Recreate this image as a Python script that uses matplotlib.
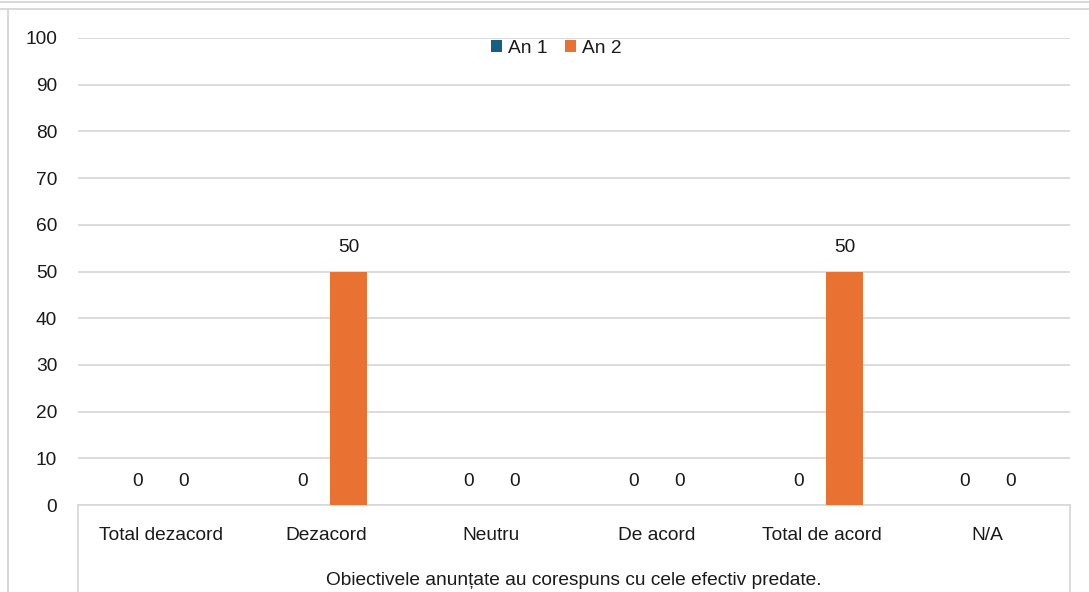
import matplotlib
matplotlib.use("Agg")
import matplotlib.pyplot as plt
from matplotlib.lines import Line2D
import numpy as np

categories = ["Total dezacord", "Dezacord", "Neutru", "De acord", "Total de acord", "N/A"]
an1 = [0, 0, 0, 0, 0, 0]
an2 = [0, 50, 0, 0, 50, 0]
series_names = ["An 1", "An 2"]
group_label = "Obiectivele anunțate au corespuns cu cele efectiv predate."
yticks = [0, 10, 20, 30, 40, 50, 60, 70, 80, 90, 100]

c1 = "#156082"
c2 = "#E97132"
grid_c = "#D9D9D9"
txt_c = "#1A1A1A"
fs = 13.8
plt.rcParams['font.family'] = ['Liberation Sans', 'DejaVu Sans']

W, H = 1089, 592
fig = plt.figure(figsize=(W / 100, H / 100), dpi=100)
x0, x1 = 78, 1070
y0, y1 = 505, 38
ax = fig.add_axes([x0 / W, 1 - y0 / H, (x1 - x0) / W, (y0 - y1) / H])

x = np.arange(len(categories))
bw = 0.224
off = 0.139
ax.bar(x - off, an1, bw, color=c1, label=series_names[0], zorder=3)
ax.bar(x + off, an2, bw, color=c2, label=series_names[1], zorder=3)

for xi, v in zip(x - off, an1):
    ax.annotate(f"{v}", (xi, v), xytext=(0, 24), textcoords="offset pixels",
                ha="center", va="center", fontsize=fs, color=txt_c)
for xi, v in zip(x + off, an2):
    ax.annotate(f"{v}", (xi, v), xytext=(0, 24), textcoords="offset pixels",
                ha="center", va="center", fontsize=fs, color=txt_c)

ax.set_xlim(-0.5, len(categories) - 0.5)
ax.set_ylim(0, 100)
ax.set_yticks(yticks)
ax.set_yticklabels([str(t) for t in yticks], fontsize=fs, color=txt_c)
ax.tick_params(axis="y", length=0, pad=15)
ax.set_xticks(x)
ax.set_xticklabels(categories, fontsize=fs, color=txt_c)
ax.tick_params(axis="x", length=0, pad=16)
ax.yaxis.grid(True, color=grid_c, linewidth=1.3, zorder=0)
for s in ["top", "right", "left"]:
    ax.spines[s].set_visible(False)
ax.spines["bottom"].set_color(grid_c)
ax.spines["bottom"].set_linewidth(1.3)

ax.text(0.5, -0.162, group_label, transform=ax.transAxes, ha="center", va="center",
        fontsize=fs, color=txt_c)

leg = ax.legend(loc="upper center", bbox_to_anchor=(0.482, 1.012), ncol=2, frameon=False,
                fontsize=fs, handlelength=0.6, handleheight=0.6, handletextpad=0.3,
                columnspacing=0.9, borderaxespad=0.0)
for t in leg.get_texts():
    t.set_color(txt_c)

def fx(px):
    return px / W
def fy(py):
    return 1 - py / H

# vertical category-axis box lines
for px in (x0, x1):
    fig.add_artist(Line2D([fx(px), fx(px)], [fy(y0), fy(592)], color=grid_c, lw=1.3))
# outer chart frame and top line
fig.add_artist(Line2D([0, 1], [fy(1.5), fy(1.5)], color=grid_c, lw=1.5))
fig.add_artist(Line2D([fx(0), 1], [fy(8.5), fy(8.5)], color=grid_c, lw=1.5))
fig.add_artist(Line2D([fx(7.5), fx(7.5)], [fy(8.5), 0], color=grid_c, lw=1.5))

fig.savefig("out.png", dpi=100)
